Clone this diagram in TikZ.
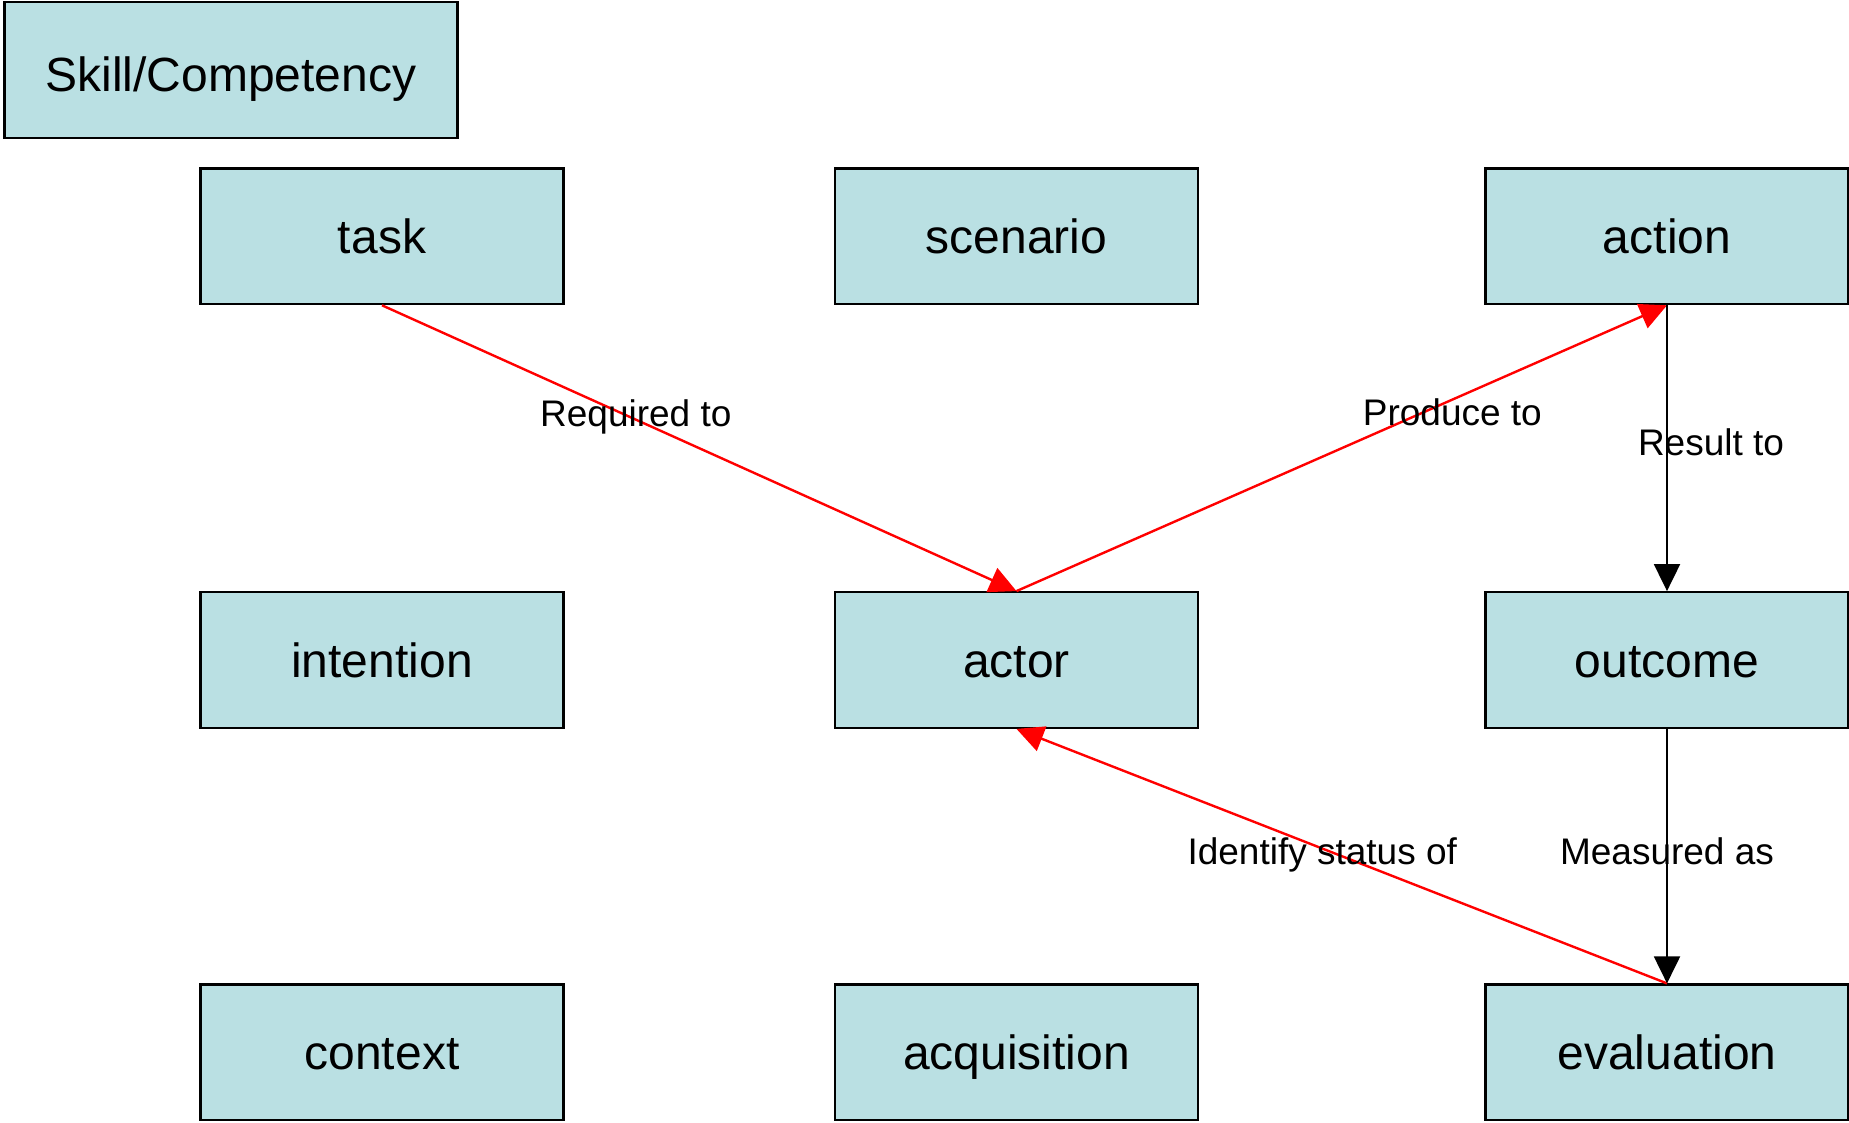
\documentclass[tikz,border=0pt]{standalone}
\usepackage{fontspec}
\setmainfont{Liberation Sans}
\usetikzlibrary{arrows.meta}
\definecolor{boxfill}{HTML}{BAE0E3}

\begin{document}
\begin{tikzpicture}[x=0.5pt,y=-0.5pt,>={Triangle[length=13.5pt,width=13pt]},
	box/.style={draw=black,line width=1.1pt,fill=boxfill,minimum width=181.5pt,minimum height=67.8pt,inner sep=0pt,text height=17.5pt,text depth=0pt,font=\fontsize{24}{28}\selectfont},
	lbl/.style={font=\fontsize{18.5}{22}\selectfont,text=black}]
	\useasboundingbox (0,0) rectangle (1849,1123);
	\node[box,minimum width=226.5pt,text height=21.5pt] (skill) at (231,70) {Skill/Competency};
	\node[box] (task)       at (382,236.4)  {task};
	\node[box] (scenario)   at (1016.5,236.4) {scenario};
	\node[box] (action)     at (1667,236.4) {action};
	\node[box] (intention)  at (382,660)    {intention};
	\node[box] (actor)      at (1016.5,660) {actor};
	\node[box] (outcome)    at (1667,660)   {outcome};
	\node[box] (context)    at (382,1052.3) {context};
	\node[box] (acquisition) at (1016.5,1052.3) {acquisition};
	\node[box] (evaluation) at (1667,1052.3) {evaluation};
	
	\path[->,red,line width=1.2pt]
	(task.south) edge node[lbl,pos=0.4,yshift=1.5pt] {Required to} (actor.north)
	(actor.north) edge node[lbl,pos=0.67,yshift=-6.5pt] {Produce to} (action.south)
	(evaluation.north) edge node[lbl,pos=0.53,yshift=-3pt] {Identify status of} (actor.south);
	\path[->,black,line width=1pt]
	(action) edge node[lbl,pos=0.48,xshift=22pt] {Result to} (outcome)
	(outcome) edge node[lbl,pos=0.48] {Measured as} (evaluation);
\end{tikzpicture}
\end{document}
